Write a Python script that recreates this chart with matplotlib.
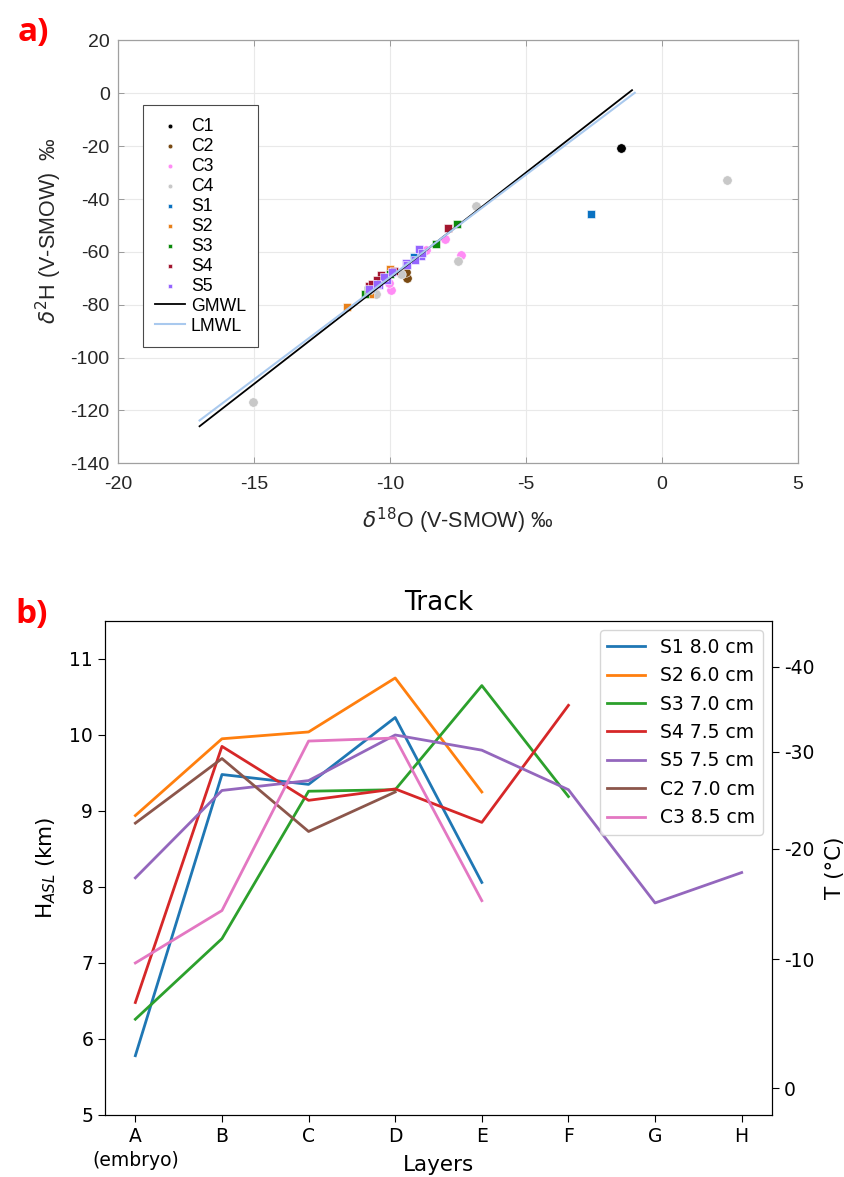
import numpy as np
import matplotlib.pyplot as plt

# ---- panel a: isotope data (delta18O, delta2H) ----
c1_x = [-1.49]
c1_y = [-20.5]
c2_x = [-9.36, -9.40, -10.55]
c2_y = [-69.9, -67.6, -75.5]
c3_x = [-7.97, -7.37, -8.81, -8.68, -9.97, -10.04]
c3_y = [-55.0, -61.0, -60.0, -59.4, -74.5, -71.7]
c4_x = [2.41, -6.82, -7.49, -15.03, -9.60, -10.53]
c4_y = [-32.9, -42.5, -63.4, -117.0, -68.2, -75.8]
s1_x = [-2.59, -9.10, -10.70]
s1_y = [-45.6, -61.8, -74.0]
s2_x = [-11.57, -10.00, -10.75]
s2_y = [-80.9, -66.5, -76.0]
s3_x = [-7.52, -8.29, -10.90, -10.80, -10.00]
s3_y = [-49.3, -57.2, -75.8, -74.3, -68.5]
s4_x = [-7.85, -9.85, -10.34, -10.47, -10.77, -10.65]
s4_y = [-50.9, -67.1, -68.8, -70.5, -72.9, -72.0]
s5_x = [-8.87, -8.93, -8.81, -9.08, -9.42, -9.36, -9.91, -10.10, -10.22, -10.41, -10.47, -10.77]
s5_y = [-61.7, -59.0, -60.6, -62.9, -64.2, -65.0, -67.6, -70.5, -69.5, -72.7, -72.0, -73.9]

gmwl_x = [-17.0, -1.1]
gmwl_y = [-126.0, 1.2]
lmwl_x = [-17.0, -1.0]
lmwl_y = [-123.8, 0.2]

# ---- panel b: heights per layer ----
layers = ['A\n(embryo)', 'B', 'C', 'D', 'E', 'F', 'G', 'H']
s1_h = [5.78, 9.48, 9.35, 10.23, 8.06]
s2_h = [8.94, 9.95, 10.04, 10.75, 9.25]
s3_h = [6.26, 7.32, 9.26, 9.28, 10.65, 9.19]
s4_h = [6.48, 9.85, 9.14, 9.29, 8.85, 10.39]
s5_h = [8.12, 9.27, 9.40, 10.00, 9.80, 9.28, 7.79, 8.19]
c2_h = [8.84, 9.69, 8.73, 9.25]
c3_h = [7.00, 7.69, 9.92, 9.96, 7.82]
track_labels = ['S1 8.0 cm', 'S2 6.0 cm', 'S3 7.0 cm', 'S4 7.5 cm',
                'S5 7.5 cm', 'C2 7.0 cm', 'C3 8.5 cm']
# temperature ticks on the right axis and the height they sit at
temp_labels = ['0', '-10', '-20', '-30', '-40']
temp_at_h = [5.35, 7.05, 8.50, 9.78, 10.90]

fig = plt.figure(figsize=(8.45, 11.77), dpi=100)

# ================= panel a =================
mfont = 'Liberation Sans'
axa = fig.add_axes([0.1396, 0.6064, 0.8047, 0.3592])
circ = dict(marker='o', s=46, edgecolors='white', linewidths=0.4)
sq = dict(marker='s', s=36, edgecolors='white', linewidths=0.4)
axa.scatter(c1_x, c1_y, color='black', label='C1', **circ)
axa.scatter(c2_x, c2_y, color='#7a4a12', label='C2', **circ)
axa.scatter(c3_x, c3_y, color='#ff8cf5', label='C3', **circ)
axa.scatter(c4_x, c4_y, color='#c8c8c8', label='C4', **circ)
axa.scatter(s1_x, s1_y, color='#0a72c2', label='S1', **sq)
axa.scatter(s2_x, s2_y, color='#e8801a', label='S2', **sq)
axa.scatter(s3_x, s3_y, color='#0a8a0a', label='S3', **sq)
axa.scatter(s4_x, s4_y, color='#a3162f', label='S4', **sq)
axa.scatter(s5_x, s5_y, color='#9565ff', label='S5', **sq)
axa.plot(gmwl_x, gmwl_y, color='black', lw=1.3, label='GMWL')
axa.plot(lmwl_x, lmwl_y, color='#a9c9ee', lw=1.5, label='LMWL')

axa.set_xlim(-20, 5)
axa.set_ylim(-140, 20)
axa.set_xticks(np.arange(-20, 6, 5))
axa.set_yticks(np.arange(-140, 21, 20))
axa.set_xticklabels([str(v) for v in range(-20, 6, 5)], family=mfont)
axa.set_yticklabels([str(v) for v in range(-140, 21, 20)], family=mfont)
axa.grid(True, color='#e9e9e9', lw=0.8)
axa.set_axisbelow(True)
axa.tick_params(direction='in', top=True, right=True, length=4, width=0.7,
                color='#9a9a9a', labelcolor='#262626', labelsize=14)
axa.tick_params(axis='x', pad=9)
axa.tick_params(axis='y', pad=6)
for sp in axa.spines.values():
    sp.set_color('#a0a0a0')
    sp.set_linewidth(0.9)
axa.set_xlabel(r'$\delta^{18}$O (V-SMOW) ‰', family=mfont, fontsize=15.5, color='#262626')
axa.set_ylabel(r'$\delta^{2}$H (V-SMOW)  ‰', family=mfont, fontsize=15.5, color='#262626')
axa.xaxis.set_label_coords(0.5, -0.1)
axa.yaxis.set_label_coords(-0.08, 0.55)
leg = axa.legend(loc='upper left', bbox_to_anchor=(0.037, 0.847), borderaxespad=0,
                 prop={'family': mfont, 'size': 12.7}, markerscale=0.5,
                 labelspacing=0.17, handlelength=1.7, handletextpad=0.3,
                 fancybox=False, framealpha=1, borderpad=0.7)
leg.get_frame().set_edgecolor('#4a4a4a')
leg.get_frame().set_linewidth(0.8)

# ================= panel b =================
axb = fig.add_axes([0.1243, 0.0527, 0.7893, 0.4197])
for h, lab in zip([s1_h, s2_h, s3_h, s4_h, s5_h, c2_h, c3_h], track_labels):
    axb.plot(range(len(h)), h, lw=2.0, label=lab)
axb.set_ylim(5, 11.5)
axb.set_xticks(range(len(layers)))
axb.set_xticklabels(layers, fontsize=13.5, linespacing=1.35)
axb.tick_params(labelsize=13.5, length=5)
axb.set_yticks(range(5, 12))
axb.set_title('Track', fontsize=19, pad=8)
axb.set_xlabel('Layers', fontsize=15.5)
axb.xaxis.set_label_coords(0.5, -0.101)
axb.xaxis.label.set_va('center')
axb.set_ylabel('H$_{ASL}$ (km)', fontsize=15.5, labelpad=8)
axb.legend(loc='upper right', fontsize=13.5, labelspacing=0.5)

axt = axb.twinx()
axt.set_ylim(axb.get_ylim())
axt.set_yticks(temp_at_h)
axt.set_yticklabels(temp_labels)
axt.tick_params(labelsize=13.5, length=5)
axt.set_ylabel('T (°C)', fontsize=15.5, labelpad=8)

# panel letters
fig.text(0.039, 0.972, 'a)', color='#ff0000', fontsize=24, fontweight='bold',
         family='Open Sans', ha='center', va='center')
fig.text(0.037, 0.4775, 'b)', color='#ff0000', fontsize=24, fontweight='bold',
         family='Open Sans', ha='center', va='center')

fig.savefig('out.png', dpi=100)
